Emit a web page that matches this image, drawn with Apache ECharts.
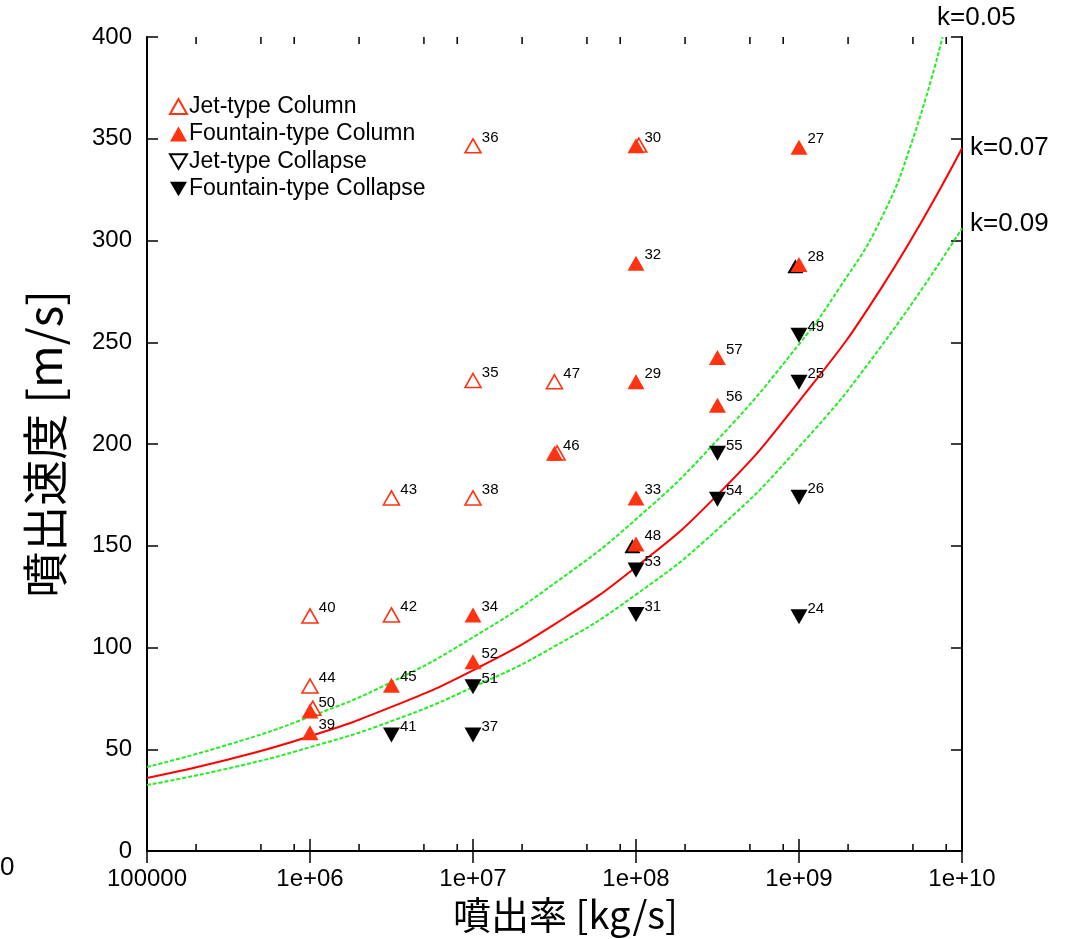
<!DOCTYPE html>
<html>
<head>
<meta charset="utf-8">
<script src="https://cdn.jsdelivr.net/npm/echarts@6/dist/echarts.min.js"></script>
<style>
html,body{margin:0;padding:0;background:#fff;overflow:hidden;}
#chart{width:1074px;height:939px;}
</style>
</head>
<body>
<div id="chart"></div>
<script>
// ---- data ----
const xTickValues = [1e5, 1e6, 1e7, 1e8, 1e9, 1e10];
const xTickLabels = ['100000', '1e+06', '1e+07', '1e+08', '1e+09', '1e+10'];
const yTickLabels = ['0', '50', '100', '150', '200', '250', '300', '350', '400'];
const minorTickMultipliers = [2, 5, 8];

// [label, rate kg/s, velocity m/s]
const jetTypeColumn = [
  ['36', 1e7, 346.5], ['30', 1.04e8, 346.9], ['35', 1e7, 231.2], ['47', 3.16e7, 230.6],
  ['43', 3.16e6, 173.5], ['38', 1e7, 173.5], ['40', 1e6, 115.5], ['42', 3.16e6, 116],
  ['44', 1e6, 81.1], ['50', 1.04e6, 70.2], ['46', 3.28e7, 195.6]
];
const fountainTypeColumn = [
  ['27', 1e9, 345.8], ['30', 1e8, 346.6], ['32', 1e8, 288.8], ['28', 1e9, 288.2],
  ['57', 3.16e8, 242.5], ['29', 1e8, 230.6], ['56', 3.16e8, 219], ['46', 3.16e7, 195.4],
  ['33', 1e8, 173.5], ['48', 1e8, 150.9], ['34', 1e7, 116], ['52', 1e7, 93],
  ['45', 3.16e6, 81.5], ['50', 1e6, 68.8], ['39', 1e6, 58.1]
];
const jetTypeCollapse = [];
const fountainTypeCollapse = [
  ['49', 1e9, 253.4], ['25', 1e9, 230.3], ['55', 3.16e8, 195.4], ['26', 1e9, 173.8],
  ['54', 3.16e8, 172.8], ['53', 1e8, 138.1], ['31', 1e8, 116.2], ['24', 1e9, 115.1],
  ['51', 1e7, 80.7], ['41', 3.16e6, 57], ['37', 1e7, 57]
];
// black up-triangles partly hidden behind points 28 and 48
const hiddenBlackUp = [[0.95e9, 287.3], [0.95e8, 149.8]];

// curves: [rate, velocity]
const curveK005 = [[1e5, 41.3], [3.16e5, 52.3], [1e6, 66], [3.16e6, 83], [1e7, 105], [3.16e7, 131.5],
  [1e8, 163], [3.16e8, 202], [1e9, 249], [1.78e9, 277], [3.16e9, 310], [5e9, 350], [7.6e9, 400]];
const curveK007 = [[1e5, 35.9], [3.16e5, 45], [1e6, 56.4], [3.16e6, 70.8], [1e7, 88.8], [3.16e7, 111.4],
  [1e8, 139.6], [3.16e8, 175], [1e9, 221], [3.16e9, 276], [1e10, 345.3]];
const curveK009 = [[1e5, 32.4], [3.16e5, 40.6], [1e6, 51], [3.16e6, 63.8], [1e7, 80.5], [3.16e7, 100.5],
  [1e8, 126], [3.16e8, 158], [1e9, 198.5], [3.16e9, 247.5], [1e10, 306]];

// ---- chart ----
const RED = '#ff3311';
const FONT = 'Liberation Sans';
const CJK = '"Noto Sans CJK JP"';
const DOWN = 'path://M0,0 L20,0 L10,17.3 Z';

const minorTicks = [];
for (let e = 5; e < 10; e++) {
  minorTickMultipliers.forEach(m => minorTicks.push(m * Math.pow(10, e)));
}

function pts(arr) {
  return arr.map(d => ({ name: d[0], value: [d[1], d[2]] }));
}
const numLabel = {
  show: true, position: 'right', distance: 0, offset: [0, -8],
  formatter: p => p.name, color: '#000', fontFamily: FONT, fontSize: 15
};

const chart = echarts.init(document.getElementById('chart'), null, { renderer: 'canvas' });
chart.setOption({
  animation: false,
  backgroundColor: '#fff',
  grid: { left: 147, right: 112, top: 37, bottom: 88, containLabel: false, outerBoundsMode: 'none' },
  xAxis: [{
    type: 'log', logBase: 10, min: 1e5, max: 1e10,
    name: '噴出率 [kg/s]', nameLocation: 'middle', nameGap: 42,
    nameTextStyle: { fontFamily: CJK, fontSize: 38, color: '#000', padding: [0, 0, 0, 22] },
    axisLine: { lineStyle: { color: '#000', width: 2 } },
    axisTick: { inside: true, length: 12, lineStyle: { color: '#000', width: 1.5 } },
    axisLabel: {
      margin: 16, fontFamily: FONT, fontSize: 24, color: '#000',
      formatter: v => { const i = xTickValues.findIndex(t => Math.abs(Math.log10(t) - Math.log10(v)) < 1e-6); return i >= 0 ? xTickLabels[i] : ''; }
    },
    splitLine: { show: false }, minorTick: { show: false }
  }, {
    type: 'log', logBase: 10, min: 1e5, max: 1e10, position: 'top',
    axisLine: { lineStyle: { color: '#000', width: 2 } },
    axisTick: { inside: true, length: 12, lineStyle: { color: '#000', width: 1.5 } },
    axisLabel: { show: false }, splitLine: { show: false }
  }],
  yAxis: [{
    type: 'value', min: 0, max: 400, interval: 50,
    name: '噴出速度 [m/s]', nameLocation: 'middle', nameGap: 79, nameRotate: 90,
    nameTextStyle: { fontFamily: CJK, fontSize: 46, color: '#000' },
    axisLine: { show: true, lineStyle: { color: '#000', width: 2 } },
    axisTick: { show: true, inside: true, length: 11, lineStyle: { color: '#000', width: 1.5 } },
    axisLabel: { margin: 15, fontFamily: FONT, fontSize: 24, color: '#000',
      formatter: v => yTickLabels[Math.round(v / 50)] },
    splitLine: { show: false }
  }, {
    type: 'value', min: 0, max: 400, interval: 50, position: 'right',
    axisLine: { show: true, lineStyle: { color: '#000', width: 2 } },
    axisTick: { show: true, inside: true, length: 11, lineStyle: { color: '#000', width: 1.5 } },
    axisLabel: { show: false }, splitLine: { show: false }
  }],
  legend: {
    data: [
      { name: 'Jet-type Column', icon: 'triangle' },
      { name: 'Fountain-type Column', icon: 'triangle' },
      { name: 'Jet-type Collapse', icon: DOWN },
      { name: 'Fountain-type Collapse', icon: DOWN }
    ],
    orient: 'vertical', left: 164, top: 90, itemGap: 4.5, itemWidth: 17, itemHeight: 15,
    textStyle: { fontFamily: FONT, fontSize: 23, color: '#000', padding: [0, 0, 0, -3] }
  },
  graphic: [
    { type: 'text', left: 937, top: 5, style: { text: 'k=0.05', font: '26px "Liberation Sans"', fill: '#000' } },
    { type: 'text', left: 970, top: 135, style: { text: 'k=0.07', font: '26px "Liberation Sans"', fill: '#000' } },
    { type: 'text', left: 970, top: 211, style: { text: 'k=0.09', font: '26px "Liberation Sans"', fill: '#000' } },
    { type: 'text', left: 0, top: 855, style: { text: '0', font: '26px "Liberation Sans"', fill: '#000' } }
  ],
  series: [
    { name: 'k=0.05', type: 'line', data: curveK005, smooth: true, symbol: 'none', silent: true, clip: true,
      lineStyle: { color: '#22ee22', width: 2, type: [4, 2] }, z: 2 },
    { name: 'k=0.07', type: 'line', data: curveK007, smooth: true, symbol: 'none', silent: true,
      lineStyle: { color: '#ff0000', width: 2 }, z: 2 },
    { name: 'k=0.09', type: 'line', data: curveK009, smooth: true, symbol: 'none', silent: true,
      lineStyle: { color: '#22ee22', width: 2, type: [4, 2] }, z: 2 },
    { name: 'hidden', type: 'scatter', data: hiddenBlackUp, symbol: 'triangle', symbolSize: [16, 14],
      itemStyle: { color: '#000', opacity: 1 }, z: 3 },
    { name: 'Jet-type Column', type: 'scatter', data: pts(jetTypeColumn), symbol: 'triangle',
      symbolSize: [16, 14], itemStyle: { color: 'rgba(255,255,255,0)', opacity: 1, borderColor: RED, borderWidth: 1.6 },
      label: Object.assign({}, numLabel, { formatter: p => (['30', '46', '50'].includes(p.name) ? '' : p.name) }), z: 4 },
    { name: 'Fountain-type Column', type: 'scatter', data: pts(fountainTypeColumn), symbol: 'triangle',
      symbolSize: [17, 15], itemStyle: { color: RED, opacity: 1 }, label: numLabel, z: 5 },
    { name: 'Jet-type Collapse', type: 'scatter', data: pts(jetTypeCollapse), symbol: DOWN,
      symbolSize: [16, 14], itemStyle: { color: '#fff', opacity: 1, borderColor: '#000', borderWidth: 1.6 }, label: numLabel, z: 5 },
    { name: 'Fountain-type Collapse', type: 'scatter', data: pts(fountainTypeCollapse), symbol: DOWN,
      symbolSize: [17, 15], itemStyle: { color: '#000', opacity: 1 }, label: numLabel, z: 5 },
    { name: 'minorBottom', type: 'scatter', data: minorTicks.map(v => [v, 0]), symbol: 'rect', symbolSize: [1.5, 7],
      symbolOffset: [0, -3.5], itemStyle: { color: '#000', opacity: 1 }, silent: true, z: 6 },
    { name: 'minorTop', type: 'scatter', data: minorTicks.map(v => [v, 400]), symbol: 'rect', symbolSize: [1.5, 7],
      symbolOffset: [0, 3.5], itemStyle: { color: '#000', opacity: 1 }, silent: true, z: 6 }
  ]
});
</script>
</body>
</html>
